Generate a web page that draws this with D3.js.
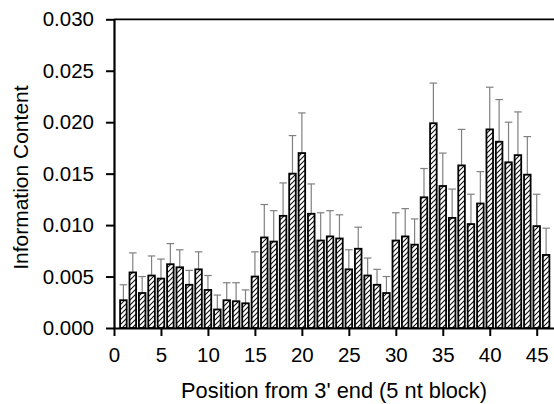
<!DOCTYPE html>
<html>
<head>
<meta charset="utf-8">
<script src="https://cdn.jsdelivr.net/npm/d3@7"></script>
<style>
  body { margin: 0; background: #fff; }
  svg { display: block; font-family: "Liberation Sans", Arial, sans-serif; }
</style>
</head>
<body>
<script>
// position (5 nt blocks from the 3' end)
var positions = [1, 2, 3, 4, 5, 6, 7, 8, 9, 10, 11, 12, 13, 14, 15, 16, 17, 18, 19, 20, 21, 22, 23,
                 24, 25, 26, 27, 28, 29, 30, 31, 32, 33, 34, 35, 36, 37, 38, 39, 40, 41, 42, 43, 44, 45, 46];

// information content per block
var info = [0.0027, 0.0054, 0.0034, 0.0051, 0.0048, 0.0062, 0.0059, 0.0042, 0.0057, 0.0037,
            0.0018, 0.0027, 0.0026, 0.0024, 0.0050, 0.0088, 0.0084, 0.0109, 0.0150, 0.0170,
            0.0111, 0.0085, 0.0089, 0.0087, 0.0057, 0.0077, 0.0051, 0.0042, 0.0034, 0.0085,
            0.0089, 0.0081, 0.0127, 0.0199, 0.0138, 0.0107, 0.0158, 0.0101, 0.0121, 0.0193,
            0.0181, 0.0161, 0.0168, 0.0149, 0.0099, 0.0071];

// upper error (sd)
var err = [0.0015, 0.0019, 0.0016, 0.0019, 0.0019, 0.0020, 0.0017, 0.0014, 0.0017, 0.0014,
           0.0014, 0.0017, 0.0018, 0.0013, 0.0024, 0.0032, 0.0030, 0.0032, 0.0037, 0.0039,
           0.0029, 0.0027, 0.0025, 0.0023, 0.0019, 0.0021, 0.0017, 0.0015, 0.0016, 0.0027,
           0.0027, 0.0025, 0.0028, 0.0039, 0.0032, 0.0028, 0.0035, 0.0029, 0.0031, 0.0041,
           0.0041, 0.0039, 0.0042, 0.0037, 0.0031, 0.0026];

var xTicks = [0, 5, 10, 15, 20, 25, 30, 35, 40, 45];
var yTicks = [0, 0.005, 0.010, 0.015, 0.020, 0.025, 0.030];

var data = positions.map(function(p, i) {
  return {pos: p, val: info[i], err: err[i]};
});

var w = 554, h = 404;
var mLeft = 114, mTop = 19.3, mBottom = 328, mRight = 555.5;

var svg = d3.select('body').append('svg')
  .attr('width', w)
  .attr('height', h);

var x = d3.scaleLinear().domain([0, 47]).range([mLeft, mRight]);
var y = d3.scaleLinear().domain([0, 0.03]).range([mBottom, mTop]);

// hatch pattern
var defs = svg.append('defs');
var pat = defs.append('pattern')
  .attr('id', 'hatch')
  .attr('patternUnits', 'userSpaceOnUse')
  .attr('width', 5)
  .attr('height', 5);
pat.append('rect').attr('width', 5).attr('height', 5).attr('fill', '#fff');
pat.append('path')
  .attr('d', 'M-1,1 L1,-1 M0,5 L5,0 M4,6 L6,4')
  .attr('stroke', '#111')
  .attr('stroke-width', 1.1);

var bw = x(0.7) - x(0);

// error bars (drawn first so bars sit on top)
var eb = svg.append('g')
  .attr('stroke', '#808080')
  .attr('stroke-width', 1.2);

eb.selectAll('line.v')
  .data(data)
  .enter()
  .append('line')
  .attr('class', 'v')
  .attr('x1', function(d) { return x(d.pos); })
  .attr('x2', function(d) { return x(d.pos); })
  .attr('y1', function(d) { return y(d.val); })
  .attr('y2', function(d) { return y(d.val + d.err); });

eb.selectAll('line.cap')
  .data(data)
  .enter()
  .append('line')
  .attr('class', 'cap')
  .attr('x1', function(d) { return x(d.pos) - bw / 2 - 0.5; })
  .attr('x2', function(d) { return x(d.pos) + bw / 2 + 0.5; })
  .attr('y1', function(d) { return y(d.val + d.err); })
  .attr('y2', function(d) { return y(d.val + d.err); });

// bars
svg.selectAll('rect.bar')
  .data(data)
  .enter()
  .append('rect')
  .attr('class', 'bar')
  .attr('x', function(d) { return x(d.pos) - bw / 2; })
  .attr('y', function(d) { return y(d.val); })
  .attr('width', bw)
  .attr('height', function(d) { return y(0) - y(d.val); })
  .attr('fill', 'url(#hatch)')
  .attr('stroke', '#000')
  .attr('stroke-width', 1.8);

// top frame line
svg.append('line')
  .attr('x1', mLeft).attr('x2', w)
  .attr('y1', mTop).attr('y2', mTop)
  .attr('stroke', '#000')
  .attr('stroke-width', 1.8);

// axes
var yAxis = d3.axisLeft(y)
  .tickValues(yTicks)
  .tickFormat(d3.format('.3f'))
  .tickSize(8)
  .tickSizeOuter(0)
  .tickPadding(12);

var xAxis = d3.axisBottom(x)
  .tickValues(xTicks)
  .tickSize(8)
  .tickSizeOuter(0)
  .tickPadding(11);

var gy = svg.append('g')
  .attr('transform', 'translate(' + mLeft + ',0)')
  .call(yAxis);

var gx = svg.append('g')
  .attr('transform', 'translate(0,' + mBottom + ')')
  .call(xAxis);

[gx, gy].forEach(function(g) {
  g.select('.domain').attr('stroke-width', 2.2).attr('stroke', '#000');
  g.selectAll('.tick line').attr('stroke-width', 2).attr('stroke', '#000');
  g.selectAll('.tick text')
    .attr('font-size', 20.5)
    .attr('font-family', '"Liberation Sans", Arial, sans-serif')
    .attr('fill', '#000');
});

// axis titles
svg.append('text')
  .attr('x', (mLeft + w) / 2)
  .attr('y', 398)
  .attr('text-anchor', 'middle')
  .attr('font-size', 21.8)
  .text("Position from 3' end (5 nt block)");

svg.append('text')
  .attr('transform', 'translate(28,' + ((mTop + mBottom) / 2 + 4) + ') rotate(-90)')
  .attr('text-anchor', 'middle')
  .attr('font-size', 21)
  .text('Information Content');
</script>
</body>
</html>
